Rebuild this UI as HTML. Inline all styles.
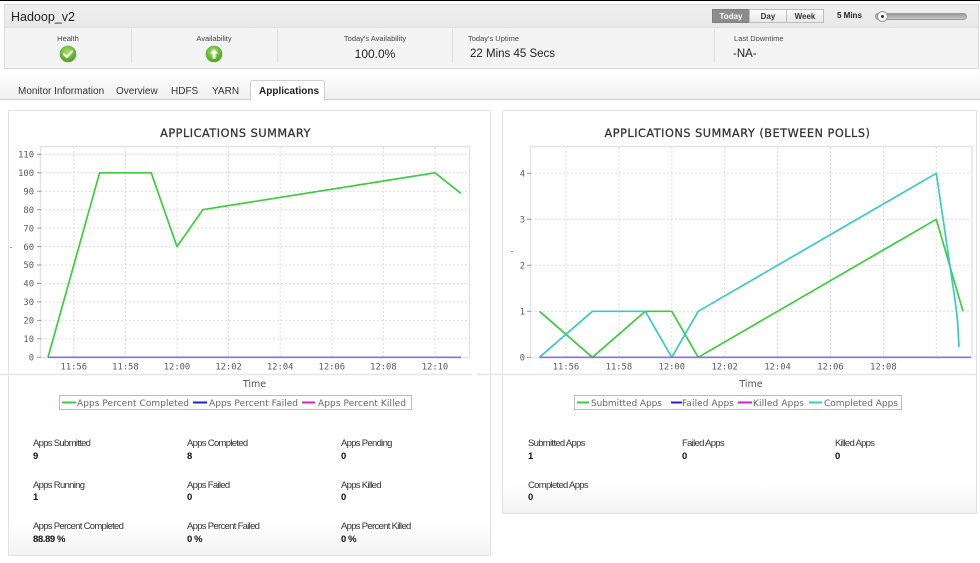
<!DOCTYPE html>
<html><head><meta charset="utf-8">
<style>
*{margin:0;padding:0;box-sizing:border-box}
body{width:980px;height:563px;background:#fff;position:relative;overflow:hidden;font-family:"Liberation Sans",Arial,sans-serif;color:#222}
.a{position:absolute;white-space:nowrap}
.hl{font-size:7.5px;color:#444;line-height:9px;text-align:center}
.hv{font-size:12px;color:#222;line-height:14px;text-align:center}
.tab{font-size:10px;color:#333;line-height:12px;top:85.5px}
.btn{top:9px;height:14px;font-size:8px;font-weight:bold;line-height:13px;text-align:center;border:1px solid #bdbdbd;background:linear-gradient(#fbfbfb,#e9e9e9);color:#333}
.sl{font-size:9.5px;letter-spacing:-0.7px;color:#333;line-height:11px}
.sv{font-size:9.5px;font-weight:bold;letter-spacing:-0.4px;color:#111;line-height:11px}
</style></head><body>

<svg class="a" style="left:0;top:0" width="980" height="563" viewBox="0 0 980 563" xmlns="http://www.w3.org/2000/svg">
<defs>
<linearGradient id="pb" x1="0" y1="0" x2="0" y2="1"><stop offset="0" stop-color="#fff"/><stop offset="1" stop-color="#f3f3f3"/></linearGradient>
<linearGradient id="tb" x1="0" y1="0" x2="0" y2="1"><stop offset="0" stop-color="#fff"/><stop offset="1" stop-color="#efefef"/></linearGradient>
</defs>
<rect x="0" y="72" width="980" height="28" fill="url(#tb)"/>
<line x1="0" y1="99.5" x2="980" y2="99.5" stroke="#cfcfcf"/>

<rect x="8.5" y="110.5" width="482" height="445" fill="#fff" stroke="#e2e2e2"/>
<rect x="9" y="522" width="481" height="33" fill="url(#pb)"/>
<rect x="502.5" y="110.5" width="474" height="403" fill="#fff" stroke="#e2e2e2"/>
<rect x="503" y="484" width="473" height="29" fill="url(#pb)"/>
<line x1="0" y1="374.5" x2="472" y2="374.5" stroke="#e6e6e6" stroke-width="1.5"/>
<line x1="477" y1="374.5" x2="976" y2="374.5" stroke="#e6e6e6" stroke-width="1.5"/>

<!-- LEFT CHART -->
<text x="235.5" y="137" text-anchor="middle" font-family="DejaVu Sans,sans-serif" font-size="11.3" letter-spacing="0.5" fill="#333" stroke="#333" stroke-width="0.25">APPLICATIONS SUMMARY</text>
<rect x="40.5" y="146.5" width="429" height="211" fill="#fff" stroke="#e4e4e4" stroke-width="1.5"/>
<g stroke="#dcdcdc" stroke-dasharray="2,2" stroke-width="1">
<line x1="41" x2="469" y1="338.8" y2="338.8"/><line x1="41" x2="469" y1="320.4" y2="320.4"/>
<line x1="41" x2="469" y1="301.9" y2="301.9"/><line x1="41" x2="469" y1="283.5" y2="283.5"/>
<line x1="41" x2="469" y1="265" y2="265"/><line x1="41" x2="469" y1="246.6" y2="246.6"/>
<line x1="41" x2="469" y1="228.1" y2="228.1"/><line x1="41" x2="469" y1="209.7" y2="209.7"/>
<line x1="41" x2="469" y1="191.2" y2="191.2"/><line x1="41" x2="469" y1="172.8" y2="172.8"/>
<line x1="41" x2="469" y1="154.3" y2="154.3"/>
<line y1="147" y2="357" x1="73.8" x2="73.8"/><line y1="147" y2="357" x1="125.4" x2="125.4"/>
<line y1="147" y2="357" x1="177" x2="177"/><line y1="147" y2="357" x1="228.6" x2="228.6"/>
<line y1="147" y2="357" x1="280.2" x2="280.2"/><line y1="147" y2="357" x1="331.8" x2="331.8"/>
<line y1="147" y2="357" x1="383.4" x2="383.4"/><line y1="147" y2="357" x1="435" x2="435"/>
</g>
<g stroke="#999" stroke-width="1">
<line x1="37" x2="41" y1="357.3" y2="357.3"/><line x1="37" x2="41" y1="338.8" y2="338.8"/>
<line x1="37" x2="41" y1="320.4" y2="320.4"/><line x1="37" x2="41" y1="301.9" y2="301.9"/>
<line x1="37" x2="41" y1="283.5" y2="283.5"/><line x1="37" x2="41" y1="265" y2="265"/>
<line x1="37" x2="41" y1="246.6" y2="246.6"/><line x1="37" x2="41" y1="228.1" y2="228.1"/>
<line x1="37" x2="41" y1="209.7" y2="209.7"/><line x1="37" x2="41" y1="191.2" y2="191.2"/>
<line x1="37" x2="41" y1="172.8" y2="172.8"/><line x1="37" x2="41" y1="154.3" y2="154.3"/>
</g>
<g font-family="DejaVu Sans Mono,monospace" font-size="8.8" fill="#5a5a5a" text-anchor="end">
<text x="34" y="360.5">0</text><text x="34" y="342">10</text><text x="34" y="323.6">20</text>
<text x="34" y="305.1">30</text><text x="34" y="286.7">40</text><text x="34" y="268.2">50</text>
<text x="34" y="249.8">60</text><text x="34" y="231.3">70</text><text x="34" y="212.9">80</text>
<text x="34" y="194.4">90</text><text x="34" y="176">100</text><text x="34" y="157.5">110</text>
</g>
<g font-family="DejaVu Sans Mono,monospace" font-size="8.8" fill="#5a5a5a" text-anchor="middle">
<text x="73.8" y="369.5">11:56</text><text x="125.4" y="369.5">11:58</text><text x="177" y="369.5">12:00</text>
<text x="228.6" y="369.5">12:02</text><text x="280.2" y="369.5">12:04</text><text x="331.8" y="369.5">12:06</text>
<text x="383.4" y="369.5">12:08</text><text x="435" y="369.5">12:10</text>
</g>
<rect x="10" y="247" width="2" height="1" fill="#999"/>
<polyline points="48,357.3 99.6,172.8 151.2,172.8 177,246.6 202.8,209.7 435,172.8 460.8,193.3" fill="none" stroke="#3ccc3c" stroke-width="1.7" stroke-linejoin="round"/>
<line x1="48" x2="461" y1="357.3" y2="357.3" stroke="#8f6fd8" stroke-width="1.7"/>
<text x="254.5" y="387" text-anchor="middle" font-family="DejaVu Sans,sans-serif" font-size="9.5" fill="#555">Time</text>
<rect x="59.5" y="395.5" width="352" height="14" fill="#fff" stroke="#bdbdbd"/>
<g stroke-width="2"><line x1="62" x2="76" y1="402.5" y2="402.5" stroke="#3ccc3c"/>
<line x1="193" x2="207" y1="402.5" y2="402.5" stroke="#2222dd"/>
<line x1="302" x2="315" y1="402.5" y2="402.5" stroke="#cc22cc"/></g>
<g font-family="DejaVu Sans,sans-serif" font-size="9" fill="#666">
<text x="77" y="406" textLength="112">Apps Percent Completed</text>
<text x="209" y="406" textLength="89">Apps Percent Failed</text>
<text x="318" y="406" textLength="88">Apps Percent Killed</text>
</g>

<!-- RIGHT CHART -->
<text x="737.5" y="137" text-anchor="middle" font-family="DejaVu Sans,sans-serif" font-size="11.3" letter-spacing="0.5" fill="#333" stroke="#333" stroke-width="0.25">APPLICATIONS SUMMARY (BETWEEN POLLS)</text>
<rect x="530.5" y="146.5" width="441.5" height="211" fill="#fff" stroke="#e4e4e4" stroke-width="1.5"/>
<g stroke="#dcdcdc" stroke-dasharray="2,2" stroke-width="1">
<line x1="531" x2="971" y1="311.3" y2="311.3"/><line x1="531" x2="971" y1="265.3" y2="265.3"/>
<line x1="531" x2="971" y1="219.3" y2="219.3"/><line x1="531" x2="971" y1="173.3" y2="173.3"/>
<line y1="147" y2="357" x1="566" x2="566"/><line y1="147" y2="357" x1="618.9" x2="618.9"/>
<line y1="147" y2="357" x1="671.8" x2="671.8"/><line y1="147" y2="357" x1="724.7" x2="724.7"/>
<line y1="147" y2="357" x1="777.6" x2="777.6"/><line y1="147" y2="357" x1="830.5" x2="830.5"/>
<line y1="147" y2="357" x1="883.4" x2="883.4"/><line y1="147" y2="357" x1="936.3" x2="936.3"/>
</g>
<g stroke="#999" stroke-width="1">
<line x1="527" x2="531" y1="357.3" y2="357.3"/><line x1="527" x2="531" y1="311.3" y2="311.3"/>
<line x1="527" x2="531" y1="265.3" y2="265.3"/><line x1="527" x2="531" y1="219.3" y2="219.3"/>
<line x1="527" x2="531" y1="173.3" y2="173.3"/>
</g>
<g font-family="DejaVu Sans Mono,monospace" font-size="8.8" fill="#5a5a5a" text-anchor="end">
<text x="525" y="360.5">0</text><text x="525" y="314.5">1</text><text x="525" y="268.5">2</text>
<text x="525" y="222.5">3</text><text x="525" y="176.5">4</text>
</g>
<g font-family="DejaVu Sans Mono,monospace" font-size="8.8" fill="#5a5a5a" text-anchor="middle">
<text x="566" y="369.5">11:56</text><text x="618.9" y="369.5">11:58</text><text x="671.8" y="369.5">12:00</text>
<text x="724.7" y="369.5">12:02</text><text x="777.6" y="369.5">12:04</text><text x="830.5" y="369.5">12:06</text>
<text x="883.4" y="369.5">12:08</text>
</g>
<rect x="511" y="251" width="2" height="1" fill="#999"/>
<polyline points="539.5,311.3 592.4,357.3 645.3,311.3 671.8,311.3 698.2,357.3 936.3,219.3 963,311.3" fill="none" stroke="#3ccc3c" stroke-width="1.7" stroke-linejoin="round"/>
<polyline points="539.5,357.3 592.4,311.3 645.3,311.3 671.8,357.3 698.2,311.3 936.3,173.3 955,300 957.5,320 959,347" fill="none" stroke="#3cc8c8" stroke-width="1.7" stroke-linejoin="round"/>
<line x1="539.5" x2="971" y1="357.3" y2="357.3" stroke="#8f6fd8" stroke-width="1.7"/>
<text x="751" y="387" text-anchor="middle" font-family="DejaVu Sans,sans-serif" font-size="9.5" fill="#555">Time</text>
<rect x="574.5" y="395.5" width="327" height="14" fill="#fff" stroke="#bdbdbd"/>
<g stroke-width="2"><line x1="577" x2="589" y1="402.5" y2="402.5" stroke="#3ccc3c"/>
<line x1="671" x2="682" y1="402.5" y2="402.5" stroke="#2222dd"/>
<line x1="738" x2="752" y1="402.5" y2="402.5" stroke="#cc22cc"/>
<line x1="809" x2="822" y1="402.5" y2="402.5" stroke="#3cc8c8"/></g>
<g font-family="DejaVu Sans,sans-serif" font-size="9" fill="#666">
<text x="591" y="406" textLength="71">Submitted Apps</text>
<text x="682" y="406" textLength="52">Failed Apps</text>
<text x="753" y="406" textLength="51">Killed Apps</text>
<text x="824" y="406" textLength="74">Completed Apps</text>
</g>
</svg>

<div class="a" style="left:0;top:0;width:980px;height:1px;background:#000"></div>

<div class="a" style="left:4px;top:4px;width:975px;height:65px;border:1px solid #dcdcdc;background:#f4f4f4"></div>
<div class="a" style="left:5px;top:5px;width:973px;height:23px;background:linear-gradient(#efefef,#e8e8e8);border-bottom:1px solid #e0e0e0"></div>
<div class="a" style="left:11px;top:10px;font-size:12.5px;line-height:15px;color:#222">Hadoop_v2</div>

<div class="a btn" style="left:712px;width:38px;background:#8c8c8c;border-color:#7f7f7f;color:#fff">Today</div>
<div class="a btn" style="left:749px;width:38px">Day</div>
<div class="a btn" style="left:786px;width:38px">Week</div>
<div class="a" style="left:837px;top:10px;font-size:8px;font-weight:bold;line-height:12px;color:#222">5 Mins</div>
<div class="a" style="left:875px;top:13px;width:92px;height:7px;border-radius:4px;background:linear-gradient(#9a9a9a,#c8c8c8);border:1px solid #999"></div>
<div class="a" style="left:877px;top:11px;width:11px;height:11px;border-radius:50%;background:#fafafa;border:1px solid #999"></div>
<div class="a" style="left:881px;top:15px;width:3px;height:3px;border-radius:50%;background:#333"></div>

<div class="a" style="left:131px;top:29px;width:1px;height:34px;background:#dedede"></div>
<div class="a" style="left:277px;top:29px;width:1px;height:34px;background:#dedede"></div>
<div class="a" style="left:452px;top:29px;width:1px;height:34px;background:#dedede"></div>
<div class="a" style="left:714px;top:29px;width:1px;height:34px;background:#dedede"></div>

<div class="a hl" style="left:18px;top:33.5px;width:100px">Health</div>
<div class="a hl" style="left:164px;top:33.5px;width:100px">Availability</div>
<div class="a hl" style="left:315px;top:33.5px;width:120px">Today's Availability</div>
<div class="a hl" style="left:468px;top:33.5px;text-align:left">Today's Uptime</div>
<div class="a hl" style="left:734px;top:33.5px;text-align:left">Last Downtime</div>
<div class="a hv" style="left:325px;top:47px;width:100px">100.0%</div>
<div class="a hv" style="left:470px;top:47px;text-align:left;font-size:11.5px">22 Mins 45 Secs</div>
<div class="a hv" style="left:733px;top:47px;text-align:left;font-size:11.5px">-NA-</div>

<svg class="a" style="left:59px;top:45px" width="18" height="18" viewBox="0 0 18 18">
<defs><radialGradient id="g1" cx="0.45" cy="0.35" r="0.65"><stop offset="0" stop-color="#a6e06a"/><stop offset="1" stop-color="#4aa41c"/></radialGradient></defs>
<circle cx="9" cy="9" r="8" fill="url(#g1)" stroke="#5aa52a" stroke-width="0.6"/>
<path d="M5 9.2 L7.8 12 L13 6.3" fill="none" stroke="#fff" stroke-width="2.2" stroke-linecap="round" stroke-linejoin="round"/>
</svg>
<svg class="a" style="left:205px;top:45px" width="18" height="18" viewBox="0 0 18 18">
<defs><radialGradient id="g2" cx="0.45" cy="0.35" r="0.65"><stop offset="0" stop-color="#a6e06a"/><stop offset="1" stop-color="#4aa41c"/></radialGradient></defs>
<circle cx="9" cy="9" r="8" fill="url(#g2)" stroke="#5aa52a" stroke-width="0.6"/>
<path d="M9 4 L13 8.5 L10.5 8.5 L10.5 13.5 L7.5 13.5 L7.5 8.5 L5 8.5 Z" fill="#fff"/>
</svg>

<div class="a tab" style="left:18px">Monitor Information</div>
<div class="a tab" style="left:116px">Overview</div>
<div class="a tab" style="left:171px">HDFS</div>
<div class="a tab" style="left:212px">YARN</div>
<div class="a" style="left:250px;top:80px;width:75px;height:21px;background:#fff;border:1px solid #cfcfcf;border-bottom:none;border-radius:3px 3px 0 0"></div>
<div class="a tab" style="left:259px;font-weight:bold;color:#222">Applications</div>

<div class="a sl" style="left:33px;top:437.5px">Apps Submitted</div>
<div class="a sv" style="left:33px;top:450.5px">9</div>
<div class="a sl" style="left:187px;top:437.5px">Apps Completed</div>
<div class="a sv" style="left:187px;top:450.5px">8</div>
<div class="a sl" style="left:341px;top:437.5px">Apps Pending</div>
<div class="a sv" style="left:341px;top:450.5px">0</div>

<div class="a sl" style="left:33px;top:479.5px">Apps Running</div>
<div class="a sv" style="left:33px;top:491.5px">1</div>
<div class="a sl" style="left:187px;top:479.5px">Apps Failed</div>
<div class="a sv" style="left:187px;top:491.5px">0</div>
<div class="a sl" style="left:341px;top:479.5px">Apps Killed</div>
<div class="a sv" style="left:341px;top:491.5px">0</div>

<div class="a sl" style="left:33px;top:520.5px">Apps Percent Completed</div>
<div class="a sv" style="left:33px;top:533.5px">88.89 %</div>
<div class="a sl" style="left:187px;top:520.5px">Apps Percent Failed</div>
<div class="a sv" style="left:187px;top:533.5px">0 %</div>
<div class="a sl" style="left:341px;top:520.5px">Apps Percent Killed</div>
<div class="a sv" style="left:341px;top:533.5px">0 %</div>

<div class="a sl" style="left:528px;top:437.5px">Submitted Apps</div>
<div class="a sv" style="left:528px;top:450.5px">1</div>
<div class="a sl" style="left:682px;top:437.5px">Failed Apps</div>
<div class="a sv" style="left:682px;top:450.5px">0</div>
<div class="a sl" style="left:835px;top:437.5px">Killed Apps</div>
<div class="a sv" style="left:835px;top:450.5px">0</div>
<div class="a sl" style="left:528px;top:479.5px">Completed Apps</div>
<div class="a sv" style="left:528px;top:491.5px">0</div>

</body></html>
